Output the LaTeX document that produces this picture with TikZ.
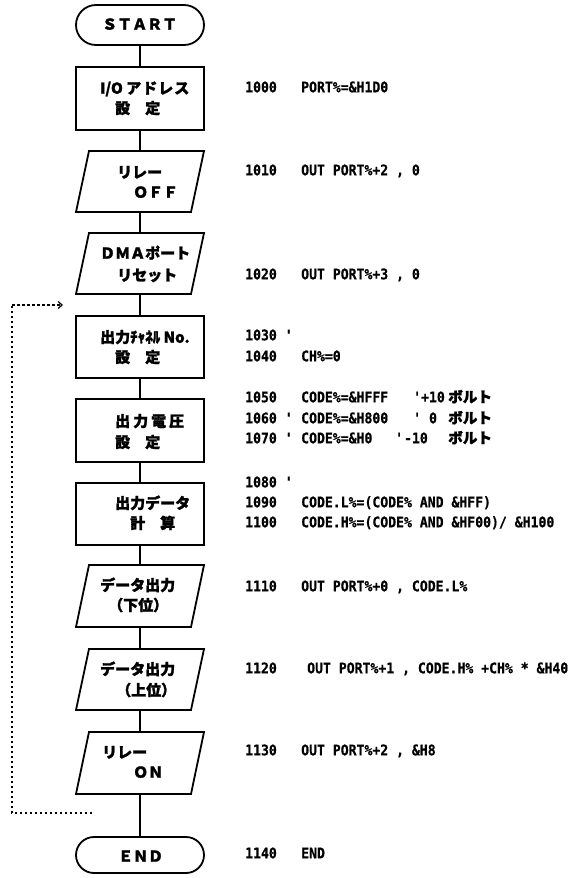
\documentclass[tikz,border=0pt]{standalone}
\usepackage{fontspec}
\usetikzlibrary{arrows.meta}
\newfontfamily\jpfont{Noto Sans CJK JP}[FakeBold=1.6]
\newfontfamily\codefont{DejaVu Sans Mono}[FakeStretch=0.9, BoldFeatures={FakeBold=0.6}]
\newcommand\drawpara[1]{\draw[line width=1.8pt, line join=miter] (#1.south west) -- ([xshift=13pt]#1.north west) -- (#1.north east) -- ([xshift=-13pt]#1.south east) -- cycle;}
\tikzset{
  flow/.style={line width=1.8pt},
  procbox/.style={draw, line width=1.8pt, minimum width=128pt, inner sep=0pt, outer sep=0pt},
  iobox/.style={draw=none, minimum width=128pt, inner sep=0pt, outer sep=0pt},
  termbox/.style={draw, line width=1.8pt, minimum width=128pt, inner sep=0pt, outer sep=0pt},
  btext/.style={anchor=west, inner sep=0pt, font=\jpfont\bfseries\fontsize{15pt}{18pt}\selectfont, text height=13.2pt, text depth=1.8pt},
  ctext/.style={anchor=west, inner sep=0pt, font=\codefont\bfseries\fontsize{14.6pt}{17pt}\selectfont, text height=10.6pt, text depth=0pt},
  loopline/.style={line width=1.2pt, dash pattern=on 2.5pt off 2.5pt},
}
\begin{document}
\begin{tikzpicture}[x=1pt,y=-1pt]
\useasboundingbox (0,0) rectangle (583,878);
% shapes
\node[termbox, minimum height=40pt, rounded corners=20pt] (start) at (140,25) {};
\node[procbox, minimum height=63pt] (b1) at (140,98.5) {};
\node[iobox, minimum height=61pt] (p1) at (140,181.5) {};
\node[iobox, minimum height=61pt] (p2) at (140,263.5) {};
\node[procbox, minimum height=62pt] (b2) at (140,347) {};
\node[procbox, minimum height=63pt] (b3) at (140,430.5) {};
\node[procbox, minimum height=62pt] (b4) at (140,514) {};
\node[iobox, minimum height=62pt] (p3) at (140,596) {};
\node[iobox, minimum height=61pt] (p4) at (140,679.5) {};
\node[iobox, minimum height=62pt] (p5) at (140,763) {};
\node[termbox, minimum height=36pt, rounded corners=18pt] (end) at (140,855) {};
\drawpara{p1}\drawpara{p2}\drawpara{p3}\drawpara{p4}\drawpara{p5}
% connectors
\draw[flow] (start) -- (b1);
\draw[flow] (b1) -- (p1);
\draw[flow] (p1) -- (p2);
\draw[flow] (p2) -- (b2);
\draw[flow] (b2) -- (b3);
\draw[flow] (b3) -- (b4);
\draw[flow] (b4) -- (p3);
\draw[flow] (p3) -- (p4);
\draw[flow] (p4) -- (p5);
\draw[flow] (p5) -- (end);
% loop
\coordinate (loopstart) at (92,813);
\coordinate (loopcorner) at (12,305);
\coordinate (loopend) at (63,305);
\draw[loopline] (loopstart) -| (loopcorner);
\draw[loopline, -{Straight Barb[length=4pt,width=7pt]}] (loopcorner) -- (loopend);
% box texts
\node[btext] (tstart) at (102,24) {ＳＴＡＲＴ};
\node[btext] (t1a) at (100,88) {I/O ア\hspace{1pt}ド\hspace{1pt}レ\hspace{1pt}ス};
\node[btext] (t1b) at (115,108) {設　定};
\node[btext] (t2a) at (117,172) {リレー};
\node[btext] (t2b) at (133,192) {ＯＦＦ};
\node[btext] (t3a) at (100,253) {ＤＭＡポート};
\node[btext] (t3b) at (117,275) {リセット};
\node[btext] (t4a) at (100,337) {出力ﾁｬﾈﾙ No.};
\node[btext] (t4b) at (115,357) {設　定};
\node[btext] (t5a) at (115,421) {出\hspace{3pt}力\hspace{3pt}電\hspace{3pt}圧};
\node[btext] (t5b) at (115,442) {設　定};
\node[btext] (t6a) at (115,503) {出力データ};
\node[btext] (t6b) at (130,523) {計　算};
\node[btext] (t7a) at (100,585) {データ出力};
\node[btext] (t7b) at (108,605) {（下位）};
\node[btext] (t8a) at (100,669) {データ出力};
\node[btext] (t8b) at (116,690) {（上位）};
\node[btext] (t9a) at (102,752) {リレー};
\node[btext] (t9b) at (133,772) {ＯＮ};
\node[btext] (tend) at (118,856) {ＥＮＤ};
% code numbers
\node[ctext] (n1000) at (245,87) {1000};
\node[ctext] (n1010) at (245,170) {1010};
\node[ctext] (n1020) at (245,274) {1020};
\node[ctext] (n1030) at (245,335) {1030 '};
\node[ctext] (n1040) at (245,356) {1040};
\node[ctext] (n1050) at (245,397) {1050};
\node[ctext] (n1060) at (245,418) {1060 '};
\node[ctext] (n1070) at (245,438) {1070 '};
\node[ctext] (n1080) at (245,482) {1080 '};
\node[ctext] (n1090) at (245,502) {1090};
\node[ctext] (n1100) at (245,522) {1100};
\node[ctext] (n1110) at (245,586) {1110};
\node[ctext] (n1120) at (245,668) {1120};
\node[ctext] (n1130) at (245,750) {1130};
\node[ctext] (n1140) at (245,853) {1140};
% code
\node[ctext] (s1000) at (301,87) {PORT\%=\&H1D0};
\node[ctext] (s1010) at (301,170) {OUT PORT\%+2 , 0};
\node[ctext] (s1020) at (301,274) {OUT PORT\%+3 , 0};
\node[ctext] (s1040) at (301,356) {CH\%=0};
\node[ctext] (s1050) at (301,397) {\makebox[112pt][l]{CODE\%=\&HFFF}\makebox[35pt][l]{'+10}{\jpfont ボルト}};
\node[ctext] (s1060) at (301,418) {\makebox[112pt][l]{CODE\%=\&H800}\makebox[35pt][l]{'\hspace{8pt}0}{\jpfont ボルト}};
\node[ctext] (s1070) at (301,438) {\makebox[94pt][l]{CODE\%=\&H0}\makebox[53pt][l]{'\hspace{1pt}-10}{\jpfont ボルト}};
\node[ctext] (s1090) at (301,502) {CODE.L\%=(CODE\% AND \&HFF)};
\node[ctext] (s1100) at (301,522) {CODE.H\%=(CODE\% AND \&HF00)/ \&H100};
\node[ctext] (s1110) at (301,586) {OUT PORT\%+0 , CODE.L\%};
\node[ctext] (s1120) at (307,668) {OUT PORT\%+1 , CODE.H\% +CH\% * \&H40};
\node[ctext] (s1130) at (301,750) {OUT PORT\%+2 , \&H8};
\node[ctext] (s1140) at (301,853) {END};
\end{tikzpicture}
\end{document}
